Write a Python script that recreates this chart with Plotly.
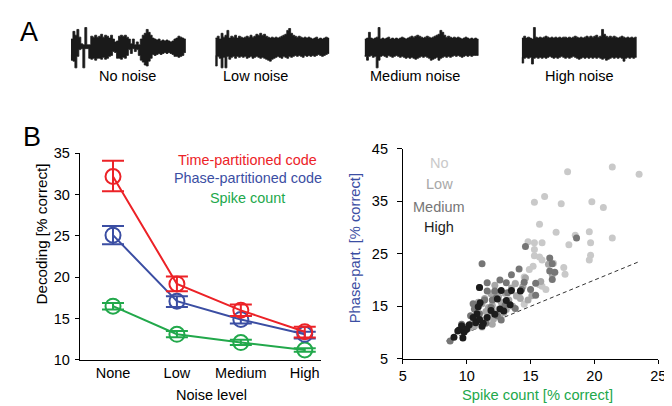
import numpy as np
import plotly.graph_objects as go

W, H = 672, 406
FONT = "Liberation Sans, Arial, sans-serif"

# ---------------- Panel A: sound envelopes (upper / lower amplitude in px) -------------
wave_labels = ["No noise", "Low noise", "Medium noise", "High noise"]
wave_upper = [
    [8, 16, 12, 18, 10, 3, 2, 20, 2, 2, 11, 10, 12, 10, 11, 13, 10, 12, 11, 9, 12, 8, 5, 6, 11, 12, 11, 12, 10, 8,
     3, 8, 2, 5, 2, 8, 12, 14, 18, 15, 12, 9, 8, 7, 8, 6, 7, 6, 7, 6, 5, 6, 8, 9, 11, 10, 9, 8, 6],
    [9, 11, 8, 14, 10, 12, 17, 9, 11, 10, 12, 9, 11, 10, 9, 10, 11, 10, 12, 10, 11, 13, 12, 14, 12, 13, 11, 10, 9, 10,
     9, 10, 9, 10, 11, 12, 13, 17, 19, 14, 12, 11, 10, 11, 10, 9, 10, 9, 10, 9, 8, 9, 10, 8, 9, 8, 9, 10, 9, 8],
    [8, 9, 15, 9, 8, 9, 10, 20, 8, 9, 8, 9, 10, 8, 9, 8, 9, 8, 9, 10, 9, 8, 9, 10, 11, 10, 11, 12, 11, 10,
     9, 10, 11, 10, 9, 10, 11, 12, 13, 17, 15, 12, 10, 11, 10, 9, 10, 9, 10, 9, 8, 9, 10, 9, 8, 9, 8, 9, 8, 8],
    [9, 11, 9, 10, 9, 8, 20, 10, 9, 10, 9, 10, 11, 10, 9, 10, 9, 10, 9, 10, 9, 10, 10, 9, 10, 9, 10, 11, 10, 9,
     10, 9, 10, 11, 10, 11, 10, 11, 12, 10, 11, 18, 13, 11, 10, 11, 10, 11, 10, 9, 10, 11, 10, 9, 10, 9, 10, 9, 10, 9],
]
wave_lower = [
    [8, 14, 15, 22, 10, 3, 2, 22, 2, 2, 12, 13, 12, 14, 12, 12, 13, 11, 13, 12, 10, 9, 5, 6, 12, 12, 13, 11, 12, 9,
     3, 7, 2, 5, 3, 9, 14, 16, 19, 20, 15, 12, 8, 9, 8, 7, 8, 7, 6, 7, 6, 7, 8, 10, 10, 11, 10, 9, 6],
    [9, 20, 10, 12, 22, 11, 22, 10, 13, 11, 10, 12, 10, 11, 10, 11, 10, 12, 11, 10, 12, 11, 10, 11, 12, 11, 12, 13, 14, 15,
     13, 12, 11, 10, 11, 12, 10, 11, 12, 10, 11, 10, 9, 10, 9, 10, 11, 9, 10, 9, 10, 9, 10, 9, 8, 9, 10, 9, 8, 7],
    [9, 10, 14, 10, 9, 11, 10, 22, 14, 10, 9, 10, 11, 9, 10, 11, 10, 9, 10, 11, 10, 11, 12, 11, 12, 11, 12, 13, 12, 11,
     10, 11, 10, 11, 12, 14, 13, 12, 11, 14, 12, 11, 10, 11, 10, 11, 10, 9, 10, 9, 10, 11, 10, 9, 10, 9, 10, 9, 9, 9],
    [11, 17, 12, 11, 12, 11, 18, 12, 11, 12, 11, 12, 11, 12, 11, 10, 11, 12, 11, 12, 11, 10, 11, 12, 11, 12, 11, 10, 11, 12,
     13, 12, 11, 12, 11, 12, 11, 12, 11, 12, 11, 12, 13, 12, 14, 13, 12, 11, 12, 11, 12, 11, 12, 15, 12, 11, 12, 11, 12, 11],
]
wave_px = [(60, 177), (207, 323), (359, 475), (519, 636)]
wave_label_px = [118, 248, 410, 578]

# ---------------- Panel B left: decoding vs noise -------------
noise_levels = ["None", "Low", "Medium", "High"]
time_code = [32.2, 19.2, 16.0, 13.4]
time_hi = [34.1, 20.1, 16.7, 14.0]
time_lo = [30.4, 18.3, 15.3, 12.7]
phase_code = [25.1, 17.1, 14.9, 13.1]
phase_hi = [26.2, 17.7, 15.3, 13.4]
phase_lo = [24.0, 16.4, 14.4, 12.6]
spike_count = [16.5, 13.1, 12.1, 11.2]
spike_hi = [16.9, 13.5, 12.45, 11.4]
spike_lo = [16.1, 12.75, 11.8, 11.0]

RED, BLUE, GREEN = "#ec2227", "#3b4ea3", "#22a84b"

# ---------------- Panel B right: scatter -------------
no_x = [21.4, 23.5, 17.9, 16.1, 15.3, 17.4, 19.8, 20.7, 15.7, 17.0, 18.5, 19.6, 21.4, 18.0, 19.7, 14.8, 15.3, 15.9,
        15.3, 15.3, 15.7, 15.9, 19.7, 19.6, 15.2, 17.6, 17.7, 14.5, 15.7, 15.9, 16.2, 13.8, 13.9, 14.5, 14.1, 13.2,
        12.5, 12.0, 11.6, 11.2, 12.8, 13.4, 14.9, 16.8, 12.2]
no_y = [41.5, 40.1, 40.6, 35.9, 34.8, 34.5, 34.9, 33.8, 30.6, 29.1, 28.5, 29.2, 28.0, 26.7, 27.1, 27.3, 27.1, 27.1,
        25.8, 24.6, 24.4, 23.8, 24.7, 23.8, 22.6, 22.4, 21.1, 20.6, 19.1, 18.8, 18.2, 19.4, 16.9, 15.4, 17.2, 16.0,
        14.5, 13.6, 12.5, 11.0, 15.5, 17.8, 22.0, 23.2, 14.0]
low_x = [16.4, 14.6, 13.0, 12.5, 13.5, 12.0, 11.5, 12.8, 11.8, 13.9, 14.4, 12.3, 11.0, 10.8, 12.7, 13.3, 11.4, 12.1,
         10.6, 11.7, 13.6, 14.2, 15.1, 12.9, 11.2, 10.4, 11.9, 12.6, 13.8, 11.3, 10.9, 12.2, 13.1, 14.8, 10.2, 11.6,
         12.4, 15.8, 16.7, 12.0]
low_y = [23.0, 20.4, 17.5, 16.8, 18.5, 15.2, 14.0, 14.9, 13.3, 17.0, 18.8, 13.5, 12.0, 13.2, 15.8, 16.2, 16.5, 12.6,
         11.2, 14.8, 15.0, 16.5, 17.0, 13.8, 15.5, 11.8, 17.4, 12.9, 19.3, 12.4, 15.8, 19.0, 14.4, 16.2, 10.9, 13.0,
         17.3, 19.7, 21.0, 11.6]
med_x = [18.6, 14.6, 16.5, 16.7, 16.5, 16.9, 16.7, 11.2, 14.1, 13.5, 14.5, 15.4, 15.0, 15.4, 12.6, 13.1, 11.6, 11.0,
         12.2, 13.2, 11.6, 12.0, 11.4, 10.6, 10.3, 9.6, 8.7, 10.8, 11.9, 12.4, 13.0, 11.0, 10.1, 12.7, 9.9, 13.8,
         11.5, 12.3, 10.5, 14.3]
med_y = [28.0, 26.4, 24.2, 23.1, 21.7, 21.5, 20.1, 23.1, 22.1, 21.0, 19.6, 19.4, 18.2, 17.1, 20.0, 19.5, 19.5, 18.6,
         17.9, 17.6, 17.9, 16.2, 16.2, 14.5, 13.2, 11.6, 8.4, 12.2, 14.8, 13.2, 15.2, 13.6, 11.2, 12.4, 10.8, 14.6,
         11.8, 16.6, 15.5, 18.2]
high_x = [9.0, 9.7, 9.4, 9.8, 9.6, 10.2, 10.7, 11.0, 10.8, 11.05, 11.0, 13.5, 12.7, 14.2, 13.1, 12.6, 11.9, 10.5,
          11.3, 12.2, 13.4, 9.3, 10.0, 11.6, 12.9, 10.9, 11.2, 12.4]
high_y = [9.1, 9.0, 10.5, 10.1, 11.3, 11.5, 11.9, 12.5, 13.6, 15.7, 18.6, 18.0, 18.0, 17.9, 16.1, 14.5, 14.2, 12.9,
          11.8, 13.5, 15.3, 10.3, 10.7, 12.9, 14.1, 14.9, 11.2, 16.4]
identity = [8.4, 23.4]
group_names = ["No", "Low", "Medium", "High"]
group_colors = ["#c9c9c9", "#a8a8a8", "#767676", "#1c1c1c"]


def px_x(p):
    return p / W


def px_y(p):
    return 1 - p / H


fig = go.Figure()
layout = dict(
    width=W, height=H, margin=dict(l=0, r=0, t=0, b=0),
    paper_bgcolor="white", plot_bgcolor="white", showlegend=False,
    font=dict(family=FONT, size=14, color="black"),
)

# waveforms
for i in range(4):
    n = len(wave_upper[i])
    xs = np.arange(n)
    up = np.array(wave_upper[i], dtype=float)
    lo = -np.array(wave_lower[i], dtype=float)
    ax = i + 3
    fig.add_trace(go.Scatter(
        x=np.concatenate([xs, xs[::-1]]), y=np.concatenate([up, lo[::-1]]),
        fill="toself", fillcolor="#1a1a1a", line=dict(color="#1a1a1a", width=0.8, shape="hv"),
        mode="lines", hoverinfo="skip", xaxis=f"x{ax}", yaxis=f"y{ax}"))
    x0, x1 = wave_px[i]
    layout[f"xaxis{ax}"] = dict(domain=[px_x(x0), px_x(x1)], range=[0, n - 1], visible=False, anchor=f"y{ax}")
    layout[f"yaxis{ax}"] = dict(domain=[px_y(56), px_y(8)], range=[-24, 24], visible=False, anchor=f"x{ax}")

# left chart
xpos = np.arange(len(noise_levels))
for vals, hi, lo, col in [(spike_count, spike_hi, spike_lo, GREEN),
                          (phase_code, phase_hi, phase_lo, BLUE),
                          (time_code, time_hi, time_lo, RED)]:
    v = np.array(vals)
    fig.add_trace(go.Scatter(
        x=xpos, y=v, mode="lines+markers",
        line=dict(color=col, width=2),
        marker=dict(symbol="circle-open", size=15, color=col, line=dict(width=2, color=col)),
        error_y=dict(type="data", symmetric=False, array=np.array(hi) - v, arrayminus=v - np.array(lo),
                     color=col, thickness=2, width=11),
        xaxis="x", yaxis="y", hoverinfo="skip"))

layout["xaxis"] = dict(domain=[px_x(69), px_x(315)], range=[-0.52, 3.26], tickvals=list(xpos), ticktext=noise_levels,
                       showline=True, linecolor="black", linewidth=1, ticks="", showgrid=False, zeroline=False,
                       tickfont=dict(size=14.5), anchor="y")
layout["yaxis"] = dict(domain=[px_y(358), px_y(143)], range=[10, 35], tickvals=[10, 15, 20, 25, 30, 35],
                       showline=True, linecolor="black", linewidth=1, ticks="outside", ticklen=4, tickcolor="black",
                       showgrid=False, zeroline=False, tickfont=dict(size=14.5), anchor="x", ticklabelstandoff=2)

# right scatter
fig.add_trace(go.Scatter(x=identity, y=identity, mode="lines", line=dict(color="#333333", width=1, dash="4px,3px"),
                         xaxis="x2", yaxis="y2", hoverinfo="skip"))
for gx, gy, col in [(no_x, no_y, group_colors[0]), (low_x, low_y, group_colors[1]),
                    (med_x, med_y, group_colors[2]), (high_x, high_y, group_colors[3])]:
    fig.add_trace(go.Scatter(x=gx, y=gy, mode="markers", marker=dict(size=7, color=col, line=dict(width=0)),
                             xaxis="x2", yaxis="y2", hoverinfo="skip"))

layout["xaxis2"] = dict(domain=[px_x(398), px_x(658)], range=[5, 25], tickvals=[5, 10, 15, 20, 25],
                        showline=True, linecolor="black", linewidth=1, ticks="outside", ticklen=4, tickcolor="black",
                        showgrid=False, zeroline=False, tickfont=dict(size=14.5), anchor="y2")
layout["yaxis2"] = dict(domain=[px_y(357), px_y(138)], range=[5, 45], tickvals=[5, 15, 25, 35, 45],
                        showline=True, linecolor="black", linewidth=1, ticks="outside", ticklen=5, tickcolor="black",
                        showgrid=False, zeroline=False, tickfont=dict(size=14.5), anchor="x2", ticklabelstandoff=6)

ann = []


def add_text(text, x, y, size=14, color="black", angle=0):
    ann.append(dict(text=text, x=px_x(x), y=px_y(y), xref="paper", yref="paper", showarrow=False,
                    xanchor="center", yanchor="middle", font=dict(size=size, color=color, family=FONT),
                    textangle=angle))


add_text("A", 17, 17, size=27)
add_text("B", 20, 126, size=27)
for lab, xc in zip(wave_labels, wave_label_px):
    add_text(lab, xc, 62, size=14.5)
add_text("Time-partitioned code", 240, 150, size=14.4, color=RED)
add_text("Phase-partitioned code", 240, 169, size=14.4, color=BLUE)
add_text("Spike count", 240, 189, size=14.4, color=GREEN)
add_text("Decoding [% correct]", 30, 227, size=15.2, angle=-90)
add_text("Noise level", 203, 395, size=14.5)
add_text("Phase-part. [% correct]", 350, 242, size=14.7, color=BLUE, angle=-90)
add_text("Spike count [% correct]", 535, 395, size=14.7, color=GREEN)
for name, col, yc in zip(group_names, group_colors, [153, 175, 199, 220]):
    add_text(name, 435, yc, size=14.5, color=col)

layout["annotations"] = ann
fig.update_layout(**layout)
fig.write_html("out.html")
